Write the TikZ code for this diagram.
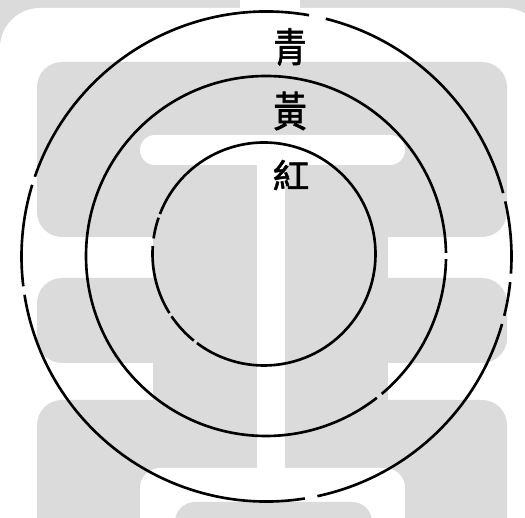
\documentclass[tikz,border=0pt]{standalone}
\usepackage{fontspec}
\newfontfamily\cjk[FakeBold=1.5]{Noto Sans CJK TC}
\usepackage{tikz}
\definecolor{paper}{gray}{0.86}

\begin{document}
\begin{tikzpicture}[x=0.2mm, y=0.2mm,
    ring/.style={black, line width=1.5pt},
    glyph/.style={font=\cjk\fontsize{19}{19}\selectfont, inner sep=0pt},
    shade/.style={fill=paper, draw=none}]
  \useasboundingbox (0,0) rectangle (525,518);
  \clip (0,0) rectangle (525,518);

  % show-through from the back of the leaf
  \fill[paper] (0,440) rectangle (525,518);
  \fill[white, rounded corners=8mm] (0,-20) rectangle (545,510);
  \fill[white] (240,505) rectangle (300,518);
  \fill[shade, rounded corners=5mm] (37,281) rectangle (507,456);
  \fill[shade, rounded corners=5mm] (37,155) rectangle (507,240);
  \fill[shade] (153,118) rectangle (257,356);
  \fill[shade] (285,118) rectangle (388,356);
  \fill[shade, rounded corners=5mm] (37,-30) rectangle (507,118);
  \fill[white, rounded corners=3mm] (140,353) rectangle (405,383);
  \fill[white] (257,48) rectangle (285,355);
  \fill[white, rounded corners=4mm] (140,-30) rectangle (405,50);
  \fill[paper, rounded corners=4mm] (175,-30) rectangle (372,16);

  % the three rings, with the breaks of the print
  \coordinate (outer) at (266.5,261.5);
  \coordinate (middle) at (266,262);
  \coordinate (inner) at (264,264);
  \foreach \a/\b in {-78/-16, -14/-6, -4/13, 15/76, 80/161, 163/187, 189/279}
    \draw[ring] ([shift={(\a:245)}]outer) arc[start angle=\a, end angle=\b, radius=245];
  \foreach \a/\b in {1/308, 310/359}
    \draw[ring] ([shift={(\a:180)}]middle) arc[start angle=\a, end angle=\b, radius=180];
  \foreach \a/\b in {233/519, 161/172, 176/212, 214/231}
    \draw[ring] ([shift={(\a:111.5)}]inner) arc[start angle=\a, end angle=\b, radius=111.5];

  % colour names
  \node[glyph, yscale=1.2] (qing) at (290,471) {青};
  \node[glyph, yscale=1.25] (huang) at (290,407) {黃};
  \node[glyph, xscale=1.1] (hong) at (291,343) {紅};
\end{tikzpicture}
\end{document}
